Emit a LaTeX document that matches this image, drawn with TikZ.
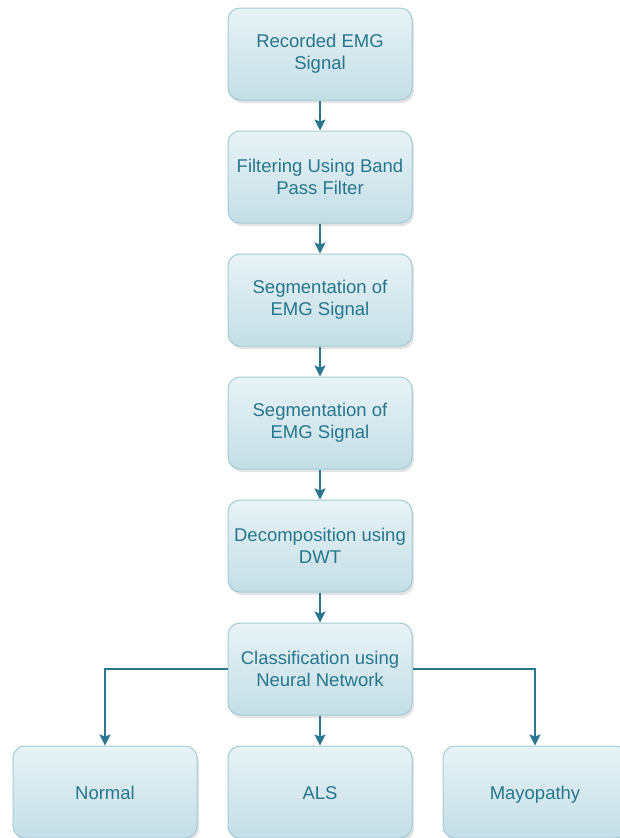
\documentclass[tikz,border=0pt]{standalone}
\usepackage{fontspec}
\setmainfont{Liberation Sans}
\usetikzlibrary{shadows,arrows.meta}
\definecolor{boxtop}{HTML}{E8F3F6}
\definecolor{boxbot}{HTML}{C4DEE6}
\definecolor{boxline}{HTML}{A3CBD7}
\definecolor{txt}{HTML}{25768E}
\definecolor{arr}{HTML}{2C7790}
\tikzset{
  proc/.style={draw=boxline, line width=1pt, rounded corners=12pt,
    top color=boxtop, bottom color=boxbot, minimum width=184pt, minimum height=92pt,
    text=txt, align=center, font=\fontsize{18.5}{22}\selectfont, inner sep=2pt,
    drop shadow={shadow xshift=2pt, shadow yshift=-3pt, opacity=0.18, fill=black!60}},
  leaf/.style={proc, text height=15pt, text depth=1pt},
  flow/.style={draw=arr, line width=1.5pt, -{Stealth[length=11pt,width=11pt,inset=2pt]}}
}
\begin{document}
\begin{tikzpicture}[x=1pt,y=-1pt]
\clip (0,0) rectangle (620,838);
\fill[white] (0,0) rectangle (620,838);
\node[proc] (a) at (320,54) {Recorded EMG\\Signal};
\node[proc] (b) at (320,177) {Filtering Using Band\\Pass Filter};
\node[proc] (c) at (320,300) {Segmentation of\\EMG Signal};
\node[proc] (d) at (320,423) {Segmentation of\\EMG Signal};
\node[proc] (e) at (320,546) {Decomposition using\\DWT};
\node[proc] (f) at (320,669) {Classification using\\Neural Network};
\node[leaf] (g) at (105,792) {Normal};
\node[leaf] (h) at (320,792) {ALS};
\node[leaf] (i) at (535,792) {Mayopathy};
\draw[flow] (a) -- (b);
\draw[flow] (b) -- (c);
\draw[flow] (c) -- (d);
\draw[flow] (d) -- (e);
\draw[flow] (e) -- (f);
\draw[flow] (f) -- (h);
\draw[flow] (f.west) -| (g.north);
\draw[flow] (f.east) -| (i.north);
\end{tikzpicture}
\end{document}
